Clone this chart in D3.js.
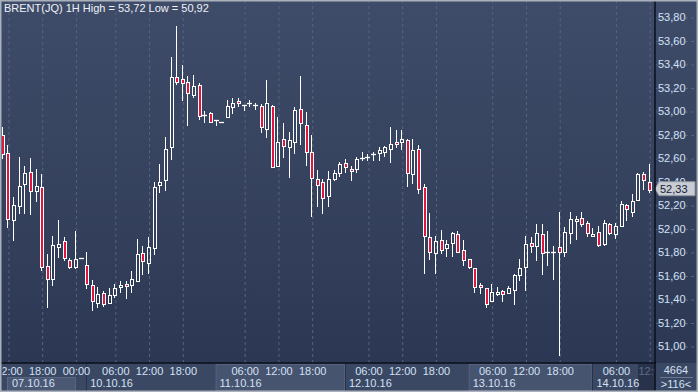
<!DOCTYPE html>
<html><head><meta charset="utf-8">
<script src="https://cdn.jsdelivr.net/npm/d3@7"></script>
<style>
html,body{margin:0;padding:0;background:#2f3b56;overflow:hidden}
svg{display:block}
text{font-family:"Liberation Sans Narrow","Arial Narrow","Liberation Sans",Arial,sans-serif;font-size:11px}
</style></head><body>
<svg id="c" width="698" height="392"></svg>
<script>
// ---- data (hourly candles, index 0..115) ----
const opens = [52.80,52.64,52.07,52.19,52.38,52.48,52.32,52.35,51.68,51.57,51.84,51.89,51.73,51.67,51.75,51.69,51.52,51.37,51.45,51.37,
51.43,51.50,51.53,51.52,51.55,51.79,51.71,51.83,52.37,52.41,52.69,53.29,53.27,53.25,53.14,53.22,52.97,52.98,52.92,52.91,
52.95,53.03,53.085,53.05,53.07,53.05,53.04,52.85,53.04,52.53,52.76,52.69,52.74,53.02,52.88,52.65,52.42,52.40,52.28,52.42,
52.47,52.56,52.51,52.51,52.60,52.61,52.63,52.64,52.65,52.68,52.74,52.735,52.75,52.46,52.68,52.35,51.93,51.79,51.90,51.83,
51.88,51.95,51.82,51.74,51.66,51.52,51.49,51.38,51.44,51.47,51.45,51.48,51.60,51.67,51.88,51.85,51.95,51.80,51.80,51.84,
51.80,51.96,52.06,52.09,52.05,51.94,51.97,51.87,52.04,51.95,52.02,52.20,52.14,52.24,52.46,52.40];
const highs = [52.86,52.71,52.27,52.61,52.53,52.60,52.51,52.46,51.78,51.94,52.07,51.93,51.75,51.98,51.75,51.80,51.56,51.50,51.47,51.49,
51.53,51.55,51.55,51.64,51.91,51.85,51.93,52.40,52.55,52.78,53.46,53.72,53.39,53.30,53.31,53.24,53.00,52.99,52.92,52.91,
53.09,53.11,53.11,53.05,53.09,53.07,53.06,53.26,53.05,52.95,52.90,52.82,53.03,53.30,52.99,52.80,52.50,52.42,52.49,52.50,
52.57,52.59,52.53,52.61,52.65,52.63,52.65,52.69,52.70,52.86,52.84,52.84,52.76,52.76,52.71,52.38,52.13,51.94,51.99,51.90,
51.97,51.98,51.90,51.74,51.66,51.54,51.49,51.53,51.50,51.48,51.51,51.61,51.74,51.94,51.93,52.04,52.04,51.98,51.85,52.14,
52.01,52.14,52.11,52.14,52.06,52.00,52.02,52.07,52.05,52.05,52.23,52.21,52.29,52.47,52.48,52.55];
const lows = [52.60,52.01,51.90,52.13,52.13,52.12,52.23,51.65,51.33,51.52,51.76,51.73,51.66,51.66,51.75,51.49,51.31,51.33,51.34,51.37,
51.42,51.46,51.41,51.46,51.55,51.61,51.62,51.78,52.31,52.33,52.59,53.23,53.09,52.88,53.12,52.93,52.91,52.91,52.88,52.91,
52.95,52.98,53.04,53.01,53.04,53.02,52.82,52.78,52.52,52.53,52.61,52.44,52.64,52.72,52.54,52.11,52.19,52.13,52.19,52.41,
52.45,52.48,52.41,52.48,52.58,52.58,52.58,52.58,52.62,52.57,52.69,52.68,52.36,52.39,52.30,51.62,51.74,51.62,51.79,51.77,
51.77,51.80,51.69,51.66,51.46,51.45,51.33,51.38,51.43,51.38,51.45,51.36,51.56,51.48,51.80,51.73,51.61,51.69,51.57,50.92,
51.77,51.88,51.91,52.02,51.94,51.94,51.85,51.86,51.95,51.92,52.02,52.07,52.11,52.24,52.34,52.31];
const closes = [52.63,52.08,52.20,52.36,52.47,52.32,52.36,51.67,51.57,51.86,51.87,51.75,51.67,51.74,51.75,51.53,51.38,51.44,51.36,51.43,
51.49,51.52,51.51,51.57,51.78,51.72,51.84,52.35,52.40,52.68,53.29,53.25,53.24,53.15,53.21,52.96,52.97,52.91,52.92,52.91,
53.04,53.07,53.065,53.05,53.07,53.05,52.86,53.07,52.52,52.74,52.70,52.75,53.01,52.90,52.65,52.43,52.37,52.26,52.42,52.47,
52.55,52.52,52.49,52.59,52.60,52.61,52.63,52.67,52.69,52.72,52.715,52.76,52.47,52.67,52.34,51.94,51.80,51.89,51.82,51.87,
51.96,51.80,51.73,51.67,51.50,51.50,51.36,51.46,51.46,51.44,51.49,51.60,51.66,51.87,51.85,51.96,51.79,51.80,51.80,51.80,
51.97,52.08,52.08,52.04,51.96,51.95,51.86,52.05,51.96,52.02,52.21,52.17,52.23,52.46,52.41,52.33];

const yTicks = [51.0,51.2,51.4,51.6,51.8,52.0,52.2,52.4,52.6,52.8,53.0,53.2,53.4,53.6,53.8];
const timeTickIdx = [1,7,13,20,26,32,43,49,55,65,71,77,87,93,99,109,115];
const timeTickLabels = ["12:00","18:00","00:00","06:00","12:00","18:00","06:00","12:00","18:00","06:00","12:00","18:00","06:00","12:00","18:00","06:00","12:00"];
const dayStartIdx = [1,15,38,61,83,105];
const dayLabels = ["07.10.16","10.10.16","11.10.16","12.10.16","13.10.16","14.10.16"];
const title = "BRENT(JQ) 1H High = 53,72 Low = 50,92";
const lastPrice = 52.33;
const infoLabels = ["4664", ">116<"];

// ---- layout ----
const W = 698, H = 392, plotL = 2, plotR = 655, plotB = 363;
const svg = d3.select('#c');
const candles = opens.map((o,i)=>({i, o, h:highs[i], l:lows[i], c:closes[i]}));

const x = d3.scaleLinear().domain([0,115]).range([2.8,649.7]);
const y = d3.scaleLinear().domain([51.0,53.8]).range([346,17]);

const defs = svg.append('defs');
const grad = defs.append('linearGradient').attr('id','bg').attr('x1',0).attr('y1',0).attr('x2',0).attr('y2',1);
grad.append('stop').attr('offset','0%').attr('stop-color','#3f4c69');
grad.append('stop').attr('offset','100%').attr('stop-color','#2c3853');
defs.append('clipPath').attr('id','plotClip').append('rect').attr('x',plotL).attr('y',0).attr('width',plotR-plotL).attr('height',plotB);
defs.append('clipPath').attr('id','axClip').append('rect').attr('x',2.5).attr('y',plotB).attr('width',plotR-2.5).attr('height',H-plotB);

svg.append('rect').attr('x',0).attr('y',0).attr('width',W).attr('height',plotB).attr('fill','url(#bg)');

// grid
const gridY = d3.axisLeft(y).tickValues(yTicks).tickSize(-(plotR-plotL)).tickFormat('');
const gy = svg.append('g').attr('transform',`translate(${plotR},0)`).call(gridY);
gy.select('.domain').remove();
gy.selectAll('line').attr('stroke','#56637e').attr('stroke-dasharray','3,3').attr('stroke-width',1)
  .attr('transform','translate(0,0.5)');
const gridX = d3.axisBottom(x).tickValues(timeTickIdx).tickSize(plotB).tickFormat('');
const gx = svg.append('g').attr('clip-path','url(#plotClip)').append('g').call(gridX);
gx.select('.domain').remove();
gx.selectAll('line').attr('stroke','#56637e').attr('stroke-dasharray','3,3').attr('stroke-width',1);

// candles
const cg = svg.append('g').attr('clip-path','url(#plotClip)');
const px = v => Math.round(v);
candles.forEach(d=>{
  const cx = px(x(d.i));
  const wx = cx - 0.5;
  const top = Math.round(y(Math.max(d.o,d.c))) + 0.5;
  let bot = Math.round(y(Math.min(d.o,d.c))) + 0.5;
  const yh = Math.round(y(d.h)), yl = Math.round(y(d.l));
  const doji = Math.abs(d.o - d.c) < 0.001;
  if (doji) {
    cg.append('line').attr('x1',wx).attr('x2',wx).attr('y1',yh).attr('y2',yl+1).attr('stroke','#fff').attr('stroke-width',1);
    cg.append('line').attr('x1',cx-3).attr('x2',cx+2).attr('y1',top).attr('y2',top).attr('stroke','#fff').attr('stroke-width',1.3);
    return;
  }
  if (bot - top < 2) bot = top + 2;
  if (yh < top) cg.append('line').attr('x1',wx).attr('x2',wx).attr('y1',yh).attr('y2',top).attr('stroke','#fff');
  if (yl > bot) cg.append('line').attr('x1',wx).attr('x2',wx).attr('y1',bot).attr('y2',yl+1).attr('stroke','#fff');
  const up = d.c > d.o;
  cg.append('rect').attr('x',cx-1.5).attr('y',top).attr('width',3).attr('height',bot-top)
    .attr('fill', up ? 'none' : '#e0163e').attr('stroke','#fff').attr('stroke-width',1);
});

// title
svg.append('text').attr('x',4).attr('y',12).attr('fill','#eef2f8').text(title);

// right axis labels
const yAxis = d3.axisRight(y).tickValues(yTicks).tickSize(0).tickPadding(3)
  .tickFormat(d=>d3.format('.2f')(d).replace('.',','));
const ya = svg.append('g').attr('transform',`translate(${plotR},0)`).call(yAxis);
ya.select('.domain').remove();
ya.selectAll('text').attr('fill','#d3e1f6').style('font-size','11px');

// last price tag
const yc = y(lastPrice) - 1;
svg.append('path').attr('d',`M${plotR},${yc} L${plotR+4},${yc-7} L695,${yc-7} L695,${yc+7} L${plotR+4},${yc+7} Z`)
  .attr('fill','#c9ccd2').attr('stroke','#8f96a1').attr('stroke-width',1);
svg.append('text').attr('x',plotR+5).attr('y',yc+4).attr('fill','#14203a').text(d3.format('.2f')(lastPrice).replace('.',','));

// bottom axis
svg.append('rect').attr('x',0).attr('y',plotB).attr('width',W).attr('height',H-plotB).attr('fill','#3b4863');
const ax = svg.append('g').attr('clip-path','url(#axClip)');
const sepX = dayStartIdx.map((d,i)=> i===0 ? 7 : x(d)-1);
// day boxes
sepX.forEach((sx,i)=>{
  if (i===0) {
    ax.append('rect').attr('x',7.5).attr('y',377.5).attr('width',x(13)-8).attr('height',14).attr('fill','#4b5873').attr('stroke','#5b6883');
  } else if (i===2 || i===4) {
    const ex = sepX[i+1];
    ax.append('rect').attr('x',sx+0.5).attr('y',plotB+1.5).attr('width',ex-sx-1).attr('height',H-plotB-3).attr('fill','#47546f').attr('stroke','#56637e');
  } else {
    ax.append('line').attr('x1',Math.round(sx)+0.5).attr('x2',Math.round(sx)+0.5).attr('y1',plotB).attr('y2',H).attr('stroke','#28324a');
  }
});
// dimmed hover box at right end
ax.append('rect').attr('x',638).attr('y',plotB+1).attr('width',plotR-638).attr('height',H-plotB-2).attr('fill','#28324b');
const xAxis = d3.axisBottom(x).tickValues(timeTickIdx).tickSize(0).tickPadding(4).tickFormat((d,i)=>timeTickLabels[i]);
const xa = ax.append('g').attr('transform',`translate(0,${plotB})`).call(xAxis);
xa.select('.domain').remove();
xa.selectAll('text').attr('fill',(d,i)=> i===timeTickIdx.length-1 ? '#5f6d88' : '#d3e1f6').style('font-size','11px')
  .attr('dx',(d,i)=> i===timeTickIdx.length-1 ? 2 : 0);
ax.selectAll('.dlab').data(dayLabels).join('text').attr('class','dlab')
  .attr('x',(d,i)=> sepX[i] + (i===0 ? 5 : 4)).attr('y',387).attr('fill','#d3e1f6').text(d=>d);

// frame lines
svg.append('line').attr('x1',0).attr('x2',plotR+1).attr('y1',plotB).attr('y2',plotB).attr('stroke','#0a0f1a').attr('stroke-width',1.5);
svg.append('line').attr('x1',plotR).attr('x2',plotR).attr('y1',0).attr('y2',H).attr('stroke','#0a0f1a').attr('stroke-width',1.5);

// info box
svg.append('line').attr('x1',660).attr('x2',693).attr('y1',377.5).attr('y2',377.5).attr('stroke','#6b7893');
svg.append('text').attr('x',676).attr('y',374).attr('text-anchor','middle').attr('fill','#d3e1f6').text(infoLabels[0]);
svg.append('text').attr('x',676).attr('y',387.5).attr('text-anchor','middle').attr('fill','#d3e1f6').text(infoLabels[1]);

// outer border
svg.append('rect').attr('x',0.75).attr('y',0.75).attr('width',W-1.5).attr('height',H-1.5)
  .attr('fill','none').attr('stroke','#aab1bc').attr('stroke-width',1.5);
</script>
</body></html>
